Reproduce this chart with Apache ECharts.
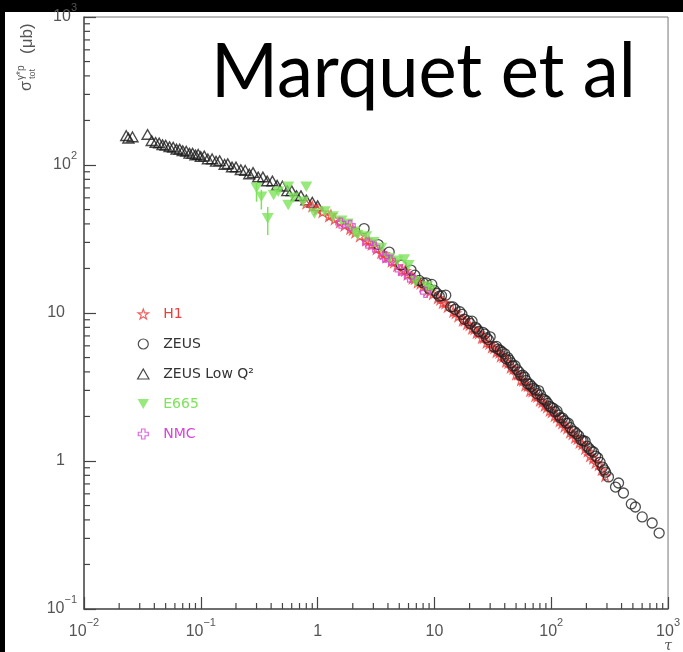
<!DOCTYPE html>
<html>
<head>
<meta charset="utf-8">
<script src="https://cdn.jsdelivr.net/npm/echarts@6/dist/echarts.min.js"></script>
<style>
  html, body { margin: 0; padding: 0; background: #fff; }
  #chart { width: 683px; height: 652px; }
</style>
</head>
<body>
<div id="chart"></div>
<script>
// ---- measurements: sigma_tot(gamma* p) [microbarn] versus scaling variable tau ----
const lowQ2Tau = [0.023, 0.024, 0.026, 0.035, 0.038, 0.041, 0.044, 0.047, 0.050, 0.054, 0.058, 0.062, 0.066, 0.070, 0.075, 0.080, 0.085, 0.090, 0.095, 0.100, 0.107, 0.115, 0.125, 0.135, 0.145, 0.160, 0.170, 0.185, 0.200, 0.220, 0.240, 0.260, 0.280, 0.310, 0.340, 0.370, 0.410, 0.450, 0.500, 0.550, 0.600, 0.660, 0.720, 0.800, 0.900, 1.000];
const lowQ2Sigma = [158, 152, 155, 161, 146, 142, 141, 137, 136, 133, 132, 128, 128, 125, 124, 120, 120, 117, 118, 114, 115, 110, 110, 106, 107, 101, 102, 97, 97, 93, 92, 87, 89, 83, 83, 78, 78, 73, 72, 67, 67, 62, 62, 58, 56, 53];

const h1Tau = [0.8, 0.9, 1.0, 1.1, 1.25, 1.3, 1.4, 1.55, 1.7, 1.9, 2.0, 2.1, 2.3, 2.6, 2.75, 2.9, 3.2, 3.5, 3.7, 3.9, 4.3, 4.5, 4.8, 5.3, 5.6, 5.9, 6.5, 6.8, 7.2, 7.6, 8.0, 8.8, 9.2, 9.7, 10.7, 11.2, 11.8, 12.4, 13, 14.5, 15.2, 16, 17.5, 18.2, 19, 20, 21, 22, 23, 24, 25.5, 26.5, 28, 29.5, 31, 32.5, 34, 36, 37, 39, 41, 43, 45, 47.5, 50, 52, 55, 57.5, 60, 63, 66, 69, 73, 76, 80, 84, 88, 92, 97, 101, 107, 112, 118, 124, 130, 137, 145, 152, 160, 168, 175, 185, 195, 205, 215, 228, 240, 255, 270, 290];
const h1Sigma = [55, 52.5, 50, 48, 45, 46, 43, 41, 39, 37, 36.5, 35, 33, 31, 30.5, 29, 27, 25.5, 25, 23.8, 22.3, 22, 20.8, 19.5, 19.3, 18.2, 17.1, 17.0, 16.1, 15.8, 15.1, 14.3, 14.0, 13.4, 12.6, 12.3, 11.7, 11.6, 11.0, 10.2, 10.0, 9.5, 8.9, 8.9, 8.4, 8.3, 7.85, 7.8, 7.35, 7.3, 6.8, 6.8, 6.3, 6.2, 5.85, 5.8, 5.45, 5.4, 5.1, 5.05, 4.7, 4.6, 4.27, 4.2, 3.85, 3.85, 3.52, 3.5, 3.24, 3.22, 2.98, 2.95, 2.75, 2.72, 2.56, 2.5, 2.37, 2.3, 2.19, 2.14, 2.02, 1.97, 1.86, 1.8, 1.71, 1.66, 1.56, 1.52, 1.44, 1.41, 1.33, 1.3, 1.21, 1.16, 1.08, 1.04, 0.97, 0.94, 0.87, 0.79];

const zeusTau = [2.5, 3.3, 4.1, 5.2, 6.3, 6.8, 7.4, 8.0, 8.5, 9.0, 9.5, 10.0, 10.5, 11, 11.5, 12.5, 13.8, 14.4, 15, 16.5, 17.2, 18, 19.5, 20.2, 21, 22.5, 23.2, 24, 26, 27, 28, 29, 30, 32.5, 34, 35, 36.5, 38, 40, 41, 42.5, 44, 45.5, 47, 49, 51, 53, 55, 57, 59, 61, 63, 65.5, 68, 70.5, 73, 75.5, 78, 81, 84, 87, 90, 93.5, 97, 100.5, 104, 108, 112, 116, 120, 125, 130, 135, 140, 146, 152, 158, 165, 172, 180, 187, 195, 203, 212, 221, 230, 240, 250, 262, 275, 285, 292, 309, 355, 377, 415, 485, 525, 601, 731, 839];
const zeusSigma = [37.2, 29.0, 25.8, 21.1, 19.5, 18.0, 16.6, 16.0, 16.0, 14.6, 15.6, 14.2, 13.6, 13.0, 13.1, 13.2, 11.0, 11.0, 10.6, 10.2, 9.8, 9.1, 8.85, 8.5, 8.8, 8.0, 7.8, 7.5, 7.4, 7.2, 6.8, 6.6, 6.9, 5.9, 5.95, 5.7, 5.6, 5.45, 5.3, 4.9, 5.0, 4.8, 4.6, 4.39, 4.4, 4.14, 4.0, 3.78, 3.8, 3.69, 3.5, 3.32, 3.3, 3.19, 3.1, 3.02, 2.85, 2.99, 2.8, 2.64, 2.6, 2.55, 2.45, 2.34, 2.3, 2.27, 2.15, 2.18, 2.04, 1.96, 1.95, 1.87, 1.8, 1.80, 1.68, 1.60, 1.58, 1.53, 1.48, 1.39, 1.37, 1.36, 1.26, 1.21, 1.17, 1.15, 1.08, 1.05, 0.98, 0.91, 0.87, 0.84, 0.78, 0.667, 0.71, 0.608, 0.513, 0.489, 0.419, 0.381, 0.326];

const e665Tau = [0.30, 0.33, 0.374, 0.42, 0.46, 0.56, 0.56, 0.62, 0.75, 0.80, 0.94, 1.15, 1.35, 1.6, 1.8, 2.07, 2.2, 2.6, 3.0, 3.5, 4.1, 4.8, 5.5, 6.0, 6.9, 8.65, 9.2];
const e665Sigma = [70, 61, 43.6, 62.7, 66, 71.3, 53.7, 60, 56.5, 71.3, 47, 48.4, 44.8, 42, 40, 35.4, 33.7, 32.8, 30, 27.5, 23.4, 22.5, 23.0, 21, 16.3, 15.1, 14.3];
// E665 points carrying visible error bars: tau, lower, upper
const e665ErrTau = [0.30, 0.33, 0.374];
const e665ErrLow = [56.5, 50, 33.6];
const e665ErrHigh = [77, 68, 52];

const nmcTau = [1.58, 1.9, 2.68, 3.07, 3.73, 4.2, 5.1, 6.1, 8.4];
const nmcSigma = [40.5, 39, 29.7, 27.9, 23.9, 22.8, 19.5, 17.5, 13.8];

// ---- axis ticks ----
const xMinExp = -2, xMaxExp = 3;
const yMinExp = -1, yMaxExp = 3;
const xTickLabels = ['10^\u22122', '10^\u22121', '1', '10', '10^2', '10^3'];
const yTickLabels = ['10^\u22121', '1', '10', '10^2', '10^3'];

// ---- marker shapes ----
const starPath = 'path://M12,1L14.6,8.6L22.5,8.6L16.1,13.4L18.5,21L12,16.4L5.5,21L7.9,13.4L1.5,8.6L9.4,8.6Z';
const triPath = 'path://M12,2L22.5,20.5L1.5,20.5Z';
const invTriPath = 'path://M1.5,3.5L22.5,3.5L12,22Z';
const crossPath = 'path://M8.5,2L15.5,2L15.5,8.5L22,8.5L22,15.5L15.5,15.5L15.5,22L8.5,22L8.5,15.5L2,15.5L2,8.5L8.5,8.5Z';

const red = '#ee3d3d', green = '#7de35a', magenta = '#d844d8', ink = '#1a1a1a', axisGrey = '#555';

function zip(a, b) { return a.map((v, i) => [v, b[i]]); }

function richText(txt, base, exp, spacer) {
  const parts = txt.split('^');
  if (parts.length > 1) return '{' + base + '|' + parts[0] + '}{' + exp + '|' + parts[1] + '}';
  return '{' + base + '|' + parts[0] + '}' + (spacer ? '{' + spacer + '| }' : '');
}

// minor tick positions 2..9 within each decade
function minorTicks(lo, hi) {
  const out = [];
  for (let k = lo; k < hi; k++) for (let m = 2; m <= 9; m++) out.push(+(m * Math.pow(10, k)).toPrecision(3));
  return out;
}
const xMinor = minorTicks(xMinExp, xMaxExp);
const yMinor = minorTicks(yMinExp, yMaxExp);
const xMin = Math.pow(10, xMinExp), xMax = Math.pow(10, xMaxExp);
const yMin = Math.pow(10, yMinExp), yMax = Math.pow(10, yMaxExp);

const labelFont = 'Liberation Sans, Arial, sans-serif';
const legendFont = '"DejaVu Sans", sans-serif';

const chart = echarts.init(document.getElementById('chart'), null, { renderer: 'canvas' });

chart.setOption({
  animation: false,
  backgroundColor: '#fff',
  grid: { left: 84, top: 17, right: 10, bottom: 43, show: true, borderColor: '#777', borderWidth: 1, backgroundColor: '#fff' },
  xAxis: {
    type: 'log', logBase: 10, min: xMin, max: xMax, splitNumber: 5,
    axisLine: { show: true, onZero: false, lineStyle: { color: axisGrey, width: 1.5 } },
    axisTick: { show: true, inside: true, length: 12, lineStyle: { color: '#444', width: 1.2 } },
    splitLine: { show: false },
    axisLabel: {
      margin: 8, showMinLabel: true, showMaxLabel: true,
      formatter: v => richText(xTickLabels[Math.round(Math.log10(v)) - xMinExp], 'm', 'e'),
      rich: {
        m: { fontSize: 16, lineHeight: 30, color: axisGrey, fontFamily: labelFont },
        e: { fontSize: 11, lineHeight: 14, verticalAlign: 'top', color: axisGrey, fontFamily: labelFont }
      }
    }
  },
  yAxis: {
    type: 'log', logBase: 10, min: yMin, max: yMax, splitNumber: 4,
    axisLine: { show: true, onZero: false, lineStyle: { color: axisGrey, width: 1.5 } },
    axisTick: { show: true, inside: true, length: 12, lineStyle: { color: '#444', width: 1.2 } },
    splitLine: { show: false },
    axisLabel: {
      margin: 7, showMinLabel: true, showMaxLabel: true,
      formatter: v => richText(yTickLabels[Math.round(Math.log10(v)) - yMinExp], 'm', 'e', 'sp'),
      rich: {
        m: { fontSize: 16, lineHeight: 30, color: axisGrey, fontFamily: labelFont },
        e: { fontSize: 11, lineHeight: 15, verticalAlign: 'top', color: axisGrey, fontFamily: labelFont },
        sp: { width: 12, fontSize: 11 }
      }
    }
  },
  legend: {
    orient: 'vertical', left: 132, top: 302,
    itemWidth: 30, itemHeight: 10, itemGap: 16,
    symbolKeepAspect: true, selectedMode: false,
    textStyle: { fontSize: 14, fontFamily: legendFont, color: '#333' },
    data: [
      { name: 'H1', textStyle: { color: red }, itemStyle: { borderWidth: 1.2 } },
      { name: 'ZEUS', textStyle: { color: '#333' }, itemStyle: { borderWidth: 1.2 } },
      { name: 'ZEUS Low Q\u00b2', textStyle: { color: '#333' }, itemStyle: { borderWidth: 1.2 } },
      { name: 'E665', textStyle: { color: green }, itemStyle: { borderWidth: 0 } },
      { name: 'NMC', textStyle: { color: magenta }, itemStyle: { borderWidth: 1.2 } }
    ]
  },
  graphic: [
    // black frame strips along the top and left edges
    { type: 'rect', left: 0, top: 0, shape: { width: 683, height: 12 }, style: { fill: '#000' }, z: -1 },
    { type: 'rect', left: 0, top: 0, shape: { width: 5, height: 652 }, style: { fill: '#000' }, z: -1 },
    // headline
    {
      type: 'text', x: 211, y: 72, scaleX: 0.95, z: 100,
      style: { x: 0, y: 0, text: 'Marquet et al', fill: '#000', font: '400 76px Lato, "Open Sans", sans-serif', verticalAlign: 'middle' }
    },
    // x axis name
    {
      type: 'text', x: 668, y: 646, z: 100,
      style: { text: '\u03c4', fill: axisGrey, font: 'italic 14px "DejaVu Serif", serif', align: 'center', verticalAlign: 'middle' }
    },
    // y axis name, written bottom to top
    {
      type: 'group', x: 27, y: 91, rotation: Math.PI / 2, z: 100,
      children: [
        { type: 'text', x: 0, y: 0, style: { text: '\u03c3', fill: axisGrey, font: '16px ' + labelFont, verticalAlign: 'middle' } },
        { type: 'text', x: 11, y: -6, style: { text: '\u03b3*p', fill: axisGrey, font: '10px ' + labelFont, verticalAlign: 'middle' } },
        { type: 'text', x: 12, y: 6, style: { text: 'tot', fill: axisGrey, font: '9px ' + labelFont, verticalAlign: 'middle' } },
        { type: 'text', x: 37, y: 0, style: { text: '(\u03bcb)', fill: axisGrey, font: '17px ' + labelFont, verticalAlign: 'middle' } }
      ]
    }
  ],
  series: [
    {
      // minor ticks on the x axis
      type: 'custom', silent: true, z: 1,
      data: xMinor.map(v => [v, yMin]),
      renderItem: (params, api) => {
        const p = api.coord([api.value(0), yMin]);
        return { type: 'line', shape: { x1: p[0], y1: p[1], x2: p[0], y2: p[1] - 6 }, style: { stroke: '#444', lineWidth: 1.2 } };
      }
    },
    {
      // minor ticks on the y axis
      type: 'custom', silent: true, z: 1,
      data: yMinor.map(v => [xMin, v]),
      renderItem: (params, api) => {
        const p = api.coord([xMin, api.value(1)]);
        return { type: 'line', shape: { x1: p[0], y1: p[1], x2: p[0] + 6, y2: p[1] }, style: { stroke: '#444', lineWidth: 1.2 } };
      }
    },
    {
      name: 'ZEUS Low Q\u00b2', type: 'scatter', silent: true, z: 2,
      symbol: triPath, symbolSize: 11, symbolKeepAspect: true,
      itemStyle: { color: 'rgba(0,0,0,0)', borderColor: ink, borderWidth: 1.4 },
      data: zip(lowQ2Tau, lowQ2Sigma)
    },
    {
      name: 'H1', type: 'scatter', silent: true, z: 3,
      symbol: starPath, symbolSize: 10, symbolKeepAspect: true,
      itemStyle: { color: 'rgba(0,0,0,0)', borderColor: red, borderWidth: 1.3 },
      data: zip(h1Tau, h1Sigma)
    },
    {
      name: 'ZEUS', type: 'scatter', silent: true, z: 4,
      symbol: 'circle', symbolSize: 10,
      itemStyle: { color: 'rgba(0,0,0,0)', borderColor: '#222', borderWidth: 1.3 },
      data: zip(zeusTau, zeusSigma)
    },
    {
      // E665 error bars
      type: 'custom', silent: true, z: 5,
      data: e665ErrTau.map((t, i) => [t, e665ErrLow[i], e665ErrHigh[i]]),
      encode: { x: 0, y: [1, 2] },
      renderItem: (params, api) => {
        const a = api.coord([api.value(0), api.value(1)]);
        const b = api.coord([api.value(0), api.value(2)]);
        return { type: 'line', shape: { x1: a[0], y1: a[1], x2: b[0], y2: b[1] }, style: { stroke: green, lineWidth: 1.5 } };
      }
    },
    {
      name: 'E665', type: 'scatter', silent: true, z: 5,
      symbol: invTriPath, symbolSize: 12, symbolKeepAspect: true,
      itemStyle: { color: green, borderColor: green, borderWidth: 0 },
      data: zip(e665Tau, e665Sigma)
    },
    {
      name: 'NMC', type: 'scatter', silent: true, z: 6,
      symbol: crossPath, symbolSize: 10, symbolKeepAspect: true,
      itemStyle: { color: 'rgba(0,0,0,0)', borderColor: magenta, borderWidth: 1.3 },
      data: zip(nmcTau, nmcSigma)
    }
  ]
});
</script>
</body>
</html>
